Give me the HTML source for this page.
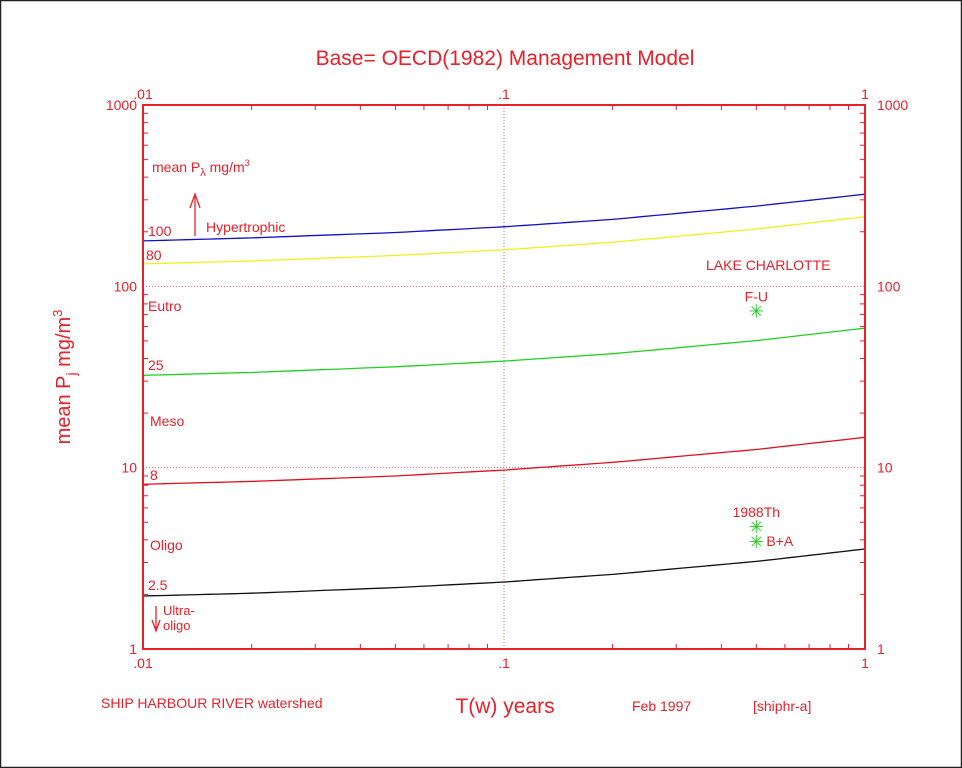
<!DOCTYPE html>
<html><head><meta charset="utf-8"><style>
body{margin:0;background:#fff}
svg{display:block;font-family:"Liberation Sans",sans-serif}
text{fill:#e8202a}
</style></head><body>
<svg id="chart" width="962" height="768" viewBox="0 0 962 768">
<rect x="0.5" y="0.5" width="961" height="767" fill="#fff" stroke="#222" stroke-width="1.5"/>
<text x="505" y="65" font-size="21" text-anchor="middle">Base= OECD(1982) Management Model</text>
<g id="grid"></g>
<g id="ticks"></g>
<g id="series"></g>
<g id="points"></g>
<rect x="143" y="105" width="722" height="544" fill="none" stroke="#e8202a" stroke-width="2"/>
<text transform="translate(70,377) rotate(-90)" font-size="20" text-anchor="middle">mean P<tspan font-size="14" dy="6">j</tspan><tspan dy="-6"> mg/m</tspan><tspan font-size="13" dy="-8">3</tspan></text>
<text x="505" y="713" font-size="21" text-anchor="middle">T(w) years</text>
<text x="101" y="708" font-size="14">SHIP HARBOUR RIVER watershed</text>
<text x="632" y="711" font-size="14">Feb 1997</text>
<text x="753" y="711" font-size="14">[shiphr-a]</text>
<text x="152" y="172" font-size="14">mean P<tspan font-size="11" dy="4">λ</tspan><tspan dy="-4"> mg/m</tspan><tspan font-size="9" dy="-6">3</tspan></text>
<line x1="195" y1="236" x2="195" y2="196" stroke="#e8202a" stroke-width="1.3"/>
<polyline points="190,208 195,194 200,208" fill="none" stroke="#e8202a" stroke-width="1.3"/>
<text x="206" y="232" font-size="14">Hypertrophic</text>
<text x="148" y="236" font-size="14">100</text>
<text x="146" y="260" font-size="14">80</text>
<text x="148" y="311" font-size="14">Eutro</text>
<text x="148" y="370" font-size="14">25</text>
<text x="150" y="426" font-size="14">Meso</text>
<text x="150" y="480" font-size="14">8</text>
<text x="150" y="550" font-size="14">Oligo</text>
<text x="148" y="590" font-size="14">2.5</text>
<line x1="156" y1="606" x2="156" y2="630" stroke="#e8202a" stroke-width="1.3"/>
<polyline points="152,620 156,631 160,620" fill="none" stroke="#e8202a" stroke-width="1.3"/>
<text x="163" y="615" font-size="13">Ultra-</text>
<text x="163" y="630" font-size="13">oligo</text>
<text x="706" y="270" font-size="14">LAKE CHARLOTTE</text>
</svg>
<script>
var NS="http://www.w3.org/2000/svg";
var xTicks=[0.01,0.1,1];
var xTickLabels=[".01",".1","1"];
var yTicks=[1,10,100,1000];
var yTickLabels=["1","10","100","1000"];
var tw=[0.01,0.02,0.05,0.1,0.2,0.5,1];
var blueVals=[178,185,198,213,234,277,322];
var yellowVals=[133,138,148,159,175,207,242];
var greenVals=[32.3,33.5,36,38.7,42.5,50.2,58.8];
var redVals=[8.1,8.4,9.0,9.7,10.7,12.6,14.7];
var blackVals=[1.96,2.03,2.18,2.34,2.58,3.04,3.56];
var pointX=[0.5,0.5,0.5];
var pointY=[72.6,4.7,3.9];
var pointLabels=["F-U","1988Th","B+A"];
var L=143,R=865,T=105,B=649;
function xs(v){return L+(Math.log10(v)+2)/2*(R-L);}
function ys(v){return B-Math.log10(v)/3*(B-T);}
function mk(tag,attrs,parent){var e=document.createElementNS(NS,tag);for(var k in attrs)e.setAttribute(k,attrs[k]);document.getElementById(parent).appendChild(e);return e;}
[10,100].forEach(function(v){var l=mk("line",{x1:L,x2:R,y1:ys(v),y2:ys(v),stroke:"#e8202a","stroke-width":0.7,"stroke-dasharray":"1,2"},"grid");

});
(function(){var l=mk("line",{x1:xs(0.1),x2:xs(0.1),y1:T,y2:B,stroke:"#e8202a","stroke-width":0.7,"stroke-dasharray":"1,2"},"grid");

})();
yTicks.forEach(function(v,i){
 var y=ys(v);
 var a=mk("text",{x:L-6,y:y+5,"font-size":14,"text-anchor":"end"},"ticks");a.textContent=yTickLabels[i];
 
 
 var b=mk("text",{x:R+12,y:y+5,"font-size":14},"ticks");b.textContent=yTickLabels[i];
 
 
 if(i<yTicks.length-1)for(var m=2;m<10;m++){var yy=ys(v*m);
  var t1=mk("line",{x1:L,x2:L+5,y1:yy,y2:yy,stroke:"#e8202a"},"ticks");
  
  
  var t2=mk("line",{x1:R-5,x2:R,y1:yy,y2:yy,stroke:"#e8202a"},"ticks");
  
  }
});
xTicks.forEach(function(v,i){
 var x=xs(v);
 var a=mk("text",{x:x,y:B+19,"font-size":14,"text-anchor":"middle"},"ticks");a.textContent=xTickLabels[i];
 
 
 var b=mk("text",{x:x,y:T-6,"font-size":14,"text-anchor":"middle"},"ticks");b.textContent=xTickLabels[i];
 
 
 if(i<xTicks.length-1)for(var m=2;m<10;m++){var xx=xs(v*m);
  var t1=mk("line",{x1:xx,x2:xx,y1:B-5,y2:B,stroke:"#e8202a"},"ticks");
  
  
  var t2=mk("line",{x1:xx,x2:xx,y1:T,y2:T+5,stroke:"#e8202a"},"ticks");
  
  }
});
function smoothPts(vals){
 var pts=[];
 for(var i=0;i<tw.length-1;i++){
  var lx0=Math.log10(tw[i]),lx1=Math.log10(tw[i+1]),ly0=Math.log10(vals[i]),ly1=Math.log10(vals[i+1]);
  for(var s=0;s<10;s++){var f=s/10;pts.push([xs(Math.pow(10,lx0+(lx1-lx0)*f)),ys(Math.pow(10,ly0+(ly1-ly0)*f))]);}
 }
 pts.push([xs(tw[tw.length-1]),ys(vals[vals.length-1])]);
 return pts.map(function(p){return p[0].toFixed(1)+","+p[1].toFixed(1);}).join(" ");
}
var seriesList=[["blue-line",blueVals,"#1010c8"],["yellow-line",yellowVals,"#f0f020"],["green-line",greenVals,"#20d020"],["red-line",redVals,"#e01020"],["black-line",blackVals,"#111"]];
seriesList.forEach(function(s){
 var p=mk("polyline",{points:smoothPts(s[1]),fill:"none",stroke:s[2],"stroke-width":1.3},"series");
 
 
});
pointX.forEach(function(v,i){
 var x=xs(v),y=ys(pointY[i]);
 var g=mk("text",{x:x,y:y+6,"font-size":18,"text-anchor":"middle",style:"fill:#20d020"},"points");g.textContent="✳";
 
 
 var lx=x,ly=y-10,anch="middle";
 if(i===2){lx=x+10;ly=y+4;anch="start";}
 var t=mk("text",{x:lx,y:ly,"font-size":14,"text-anchor":anch},"points");t.textContent=pointLabels[i];
 
 
});
</script>
</body></html>
